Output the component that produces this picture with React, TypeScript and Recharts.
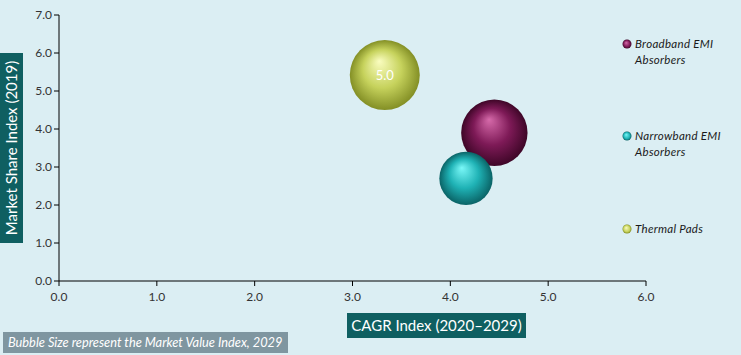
import {
  ScatterChart,
  Scatter,
  XAxis,
  YAxis,
  ZAxis,
  LabelList,
} from "recharts";

// Bubble data (x = CAGR index, y = market share index, z = market value index)
const seriesNames = ["Broadband EMI Absorbers", "Narrowband EMI Absorbers", "Thermal Pads"];
const broadband = [{ x: 4.45, y: 3.9, z: 4.5 }];
const narrowband = [{ x: 4.16, y: 2.7, z: 2.9 }];
const thermalPads = [{ x: 3.33, y: 5.42, z: 5.0 }];

const xTicks = [0, 1, 2, 3, 4, 5, 6];
const yTicks = [0, 1, 2, 3, 4, 5, 6, 7];

const FONT = "Lato, 'Open Sans', sans-serif";

const palette = [
  { id: "gBroad", hi: "#d66aaa", mid: "#7e1a57", lo: "#3e0627", legend: ["Broadband EMI", "Absorbers"] },
  { id: "gNarrow", hi: "#7af8f8", mid: "#1fb2b5", lo: "#0a6366", legend: ["Narrowband EMI", "Absorbers"] },
  { id: "gThermal", hi: "#fafdc0", mid: "#c6d25c", lo: "#838f25", legend: ["Thermal Pads"] },
];

const bubble = (gradId: string) => (p: any) => {
  const r = p.width ? p.width / 2 : Math.sqrt((p.size || 0) / Math.PI);
  return <circle cx={p.cx} cy={p.cy} r={r} fill={`url(#${gradId})`} />;
};

function LegendBox() {
  const rows = [44, 136, 229];
  return (
    <div style={{ position: "absolute", left: 622, top: 0, width: 119, height: 240, fontFamily: FONT }}>
      {seriesNames.map((name, i) => {
        const c = palette[i];
        return (
          <div key={name} title={name} style={{ position: "absolute", left: 0, top: rows[i] - 8 }}>
            <svg width={10} height={10} style={{ position: "absolute", left: 0, top: 3 }}>
              <circle cx={5} cy={5} r={4.5} fill={`url(#${c.id}L)`} />
            </svg>
            <div
              style={{
                position: "absolute",
                left: 13,
                top: 0,
                width: 110,
                fontSize: 11.5,
                fontStyle: "italic",
                lineHeight: "16px",
                color: "#1a1a1a",
                letterSpacing: 0.3,
              }}
            >
              {c.legend.map((l) => (
                <div key={l}>{l}</div>
              ))}
            </div>
          </div>
        );
      })}
    </div>
  );
}

export default function App() {
  return (
    <div
      style={{
        position: "absolute",
        left: 0,
        top: 0,
        width: 741,
        height: 355,
        background: "#dbeef3",
        fontFamily: FONT,
      }}
    >
      <ScatterChart width={741} height={355} margin={{ top: 15, right: 95, bottom: 0, left: 0 }}>
        <defs>
          {palette.map((c) => (
            <radialGradient key={c.id} id={c.id} cx="50%" cy="50%" r="50%" fx="42%" fy="30%">
              <stop offset="0%" stopColor={c.hi} />
              <stop offset="55%" stopColor={c.mid} />
              <stop offset="100%" stopColor={c.lo} />
            </radialGradient>
          ))}
          {palette.map((c) => (
            <radialGradient key={c.id + "L"} id={c.id + "L"} cx="50%" cy="50%" r="50%" fx="40%" fy="35%">
              <stop offset="0%" stopColor={c.hi} />
              <stop offset="70%" stopColor={c.mid} />
              <stop offset="100%" stopColor={c.lo} />
            </radialGradient>
          ))}
        </defs>
        <XAxis
          type="number"
          dataKey="x"
          domain={[0, 6]}
          ticks={xTicks}
          tickFormatter={(v) => v.toFixed(1)}
          height={74}
          tickSize={5}
          tickMargin={6}
          axisLine={{ stroke: "#000" }}
          tickLine={{ stroke: "#000" }}
          tick={{ fill: "#333", fontSize: 12, fontFamily: FONT }}
          label={{
            content: () => (
              <g>
                <rect x={347} y={313} width={179} height={25} fill="#0f5f61" />
                <text x={436.5} y={331} textAnchor="middle" fill="#fff" fontSize={15} fontFamily={FONT}>
                  CAGR Index (2020–2029)
                </text>
              </g>
            ),
          }}
        />
        <YAxis
          type="number"
          dataKey="y"
          domain={[0, 7]}
          ticks={yTicks}
          tickFormatter={(v) => v.toFixed(1)}
          width={59}
          tickSize={5}
          tickMargin={2}
          axisLine={{ stroke: "#000" }}
          tickLine={{ stroke: "#000" }}
          tick={{ fill: "#333", fontSize: 12, fontFamily: FONT }}
          label={{
            content: () => (
              <g>
                <rect x={0} y={53} width={23} height={190} fill="#0f5f61" />
                <text
                  x={17}
                  y={148}
                  transform="rotate(-90 17 148)"
                  textAnchor="middle"
                  fill="#fff"
                  fontSize={15}
                  fontFamily={FONT}
                >
                  Market Share Index (2019)
                </text>
              </g>
            ),
          }}
        />
        <ZAxis type="number" dataKey="z" domain={[0, 5]} range={[0, Math.PI * 35 * 35]} />
        <Scatter
          name={seriesNames[0]}
          data={broadband}
          shape={bubble("gBroad")}
          isAnimationActive={false}
        />
        <Scatter
          name={seriesNames[1]}
          data={narrowband}
          shape={bubble("gNarrow")}
          isAnimationActive={false}
        />
        <Scatter
          name={seriesNames[2]}
          data={thermalPads}
          shape={bubble("gThermal")}
          isAnimationActive={false}
        >
          <LabelList
            dataKey="z"
            position="center"
            formatter={(v: any) => Number(v).toFixed(1)}
            fill="#fff"
            fontSize={13}
            fontFamily={FONT}
          />
        </Scatter>
      </ScatterChart>
      <LegendBox />
      <div
        style={{
          position: "absolute",
          left: 3,
          top: 332,
          width: 285,
          height: 21,
          background: "#7f96a0",
          color: "#fff",
          fontSize: 12.8,
          fontStyle: "italic",
          lineHeight: "21px",
          paddingLeft: 5,
          boxSizing: "border-box",
          whiteSpace: "nowrap",
        }}
      >
        Bubble Size represent the Market Value Index, 2029
      </div>
    </div>
  );
}
